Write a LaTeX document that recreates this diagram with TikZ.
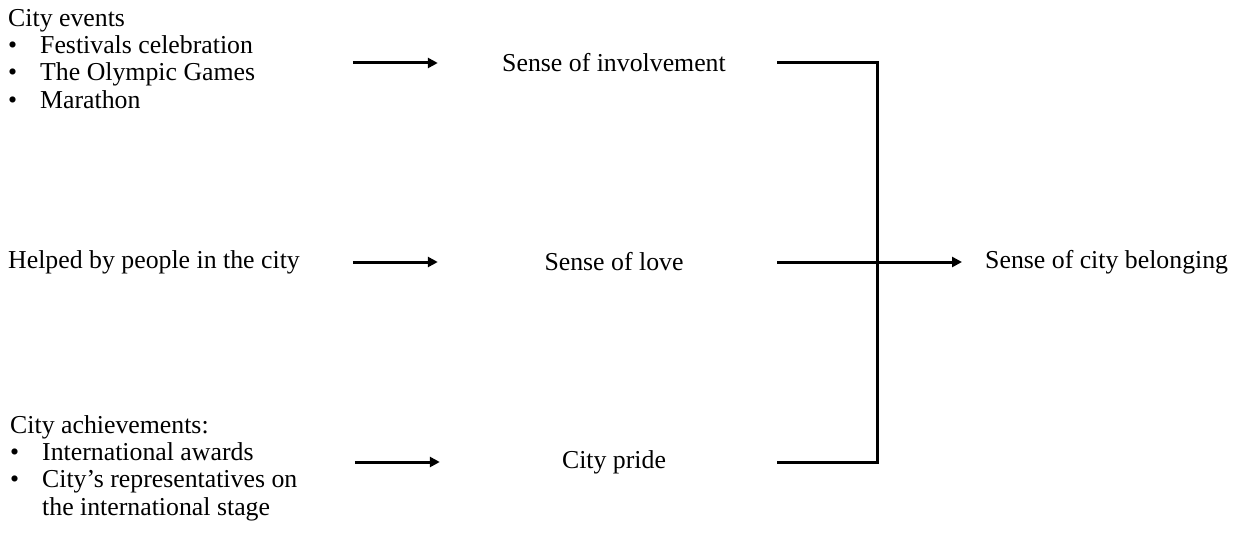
\documentclass[tikz,border=0pt]{standalone}
\usepackage{fontspec}
\setmainfont{Liberation Serif}
\usepackage{tikz}
\usetikzlibrary{arrows.meta, positioning}
\newcommand{\itm}{\makebox[32pt][l]{\textbullet}}

\begin{document}
\begin{tikzpicture}[
  x=1pt, y=-1pt,
  txt/.style={inner sep=0pt, font=\fontsize{25.8}{27.3}\selectfont},
  lst/.style={txt, align=left, anchor=north west},
  mid/.style={txt, minimum width=226pt},
  arr/.style={-{Triangle[length=10pt,width=10pt]}, line width=3pt},
  brk/.style={line width=3pt}
]
\useasboundingbox (0,0) rectangle (1237,535);

% left column
\node[lst] (events) at (8,9)
  {City events\\ \itm Festivals celebration\\ \itm The Olympic Games\\ \itm Marathon};
\node[txt, anchor=west] (helped) at (8,262) {Helped by people in the city};
\node[lst] (achieve) at (10,415)
  {City achievements:\\ \itm International awards\\ \itm City's representatives on\\
   \hspace*{32pt}the international stage};

% middle column
\node[mid] (inv) at (614,63) {Sense of involvement};
\node[mid] (love) at (614,262) {Sense of love};
\node[mid] (pride) at (614,462) {City pride};

\node[txt, anchor=west] (belong) at (985,262) {Sense of city belonging};

\draw[arr] ([xshift=-148pt]inv.west) -- ([xshift=-63pt]inv.west);
\draw[arr] ([xshift=-148pt]love.west) -- ([xshift=-63pt]love.west);
\draw[arr] ([xshift=-146pt]pride.west) -- ([xshift=-61pt]pride.west);

\draw[brk] ([xshift=50pt]inv.east) -| ([xshift=150pt]pride.east)
  -- ([xshift=50pt]pride.east);
\draw[arr] ([xshift=50pt]love.east) -- ([xshift=-23pt]belong.west);
\end{tikzpicture}
\end{document}
